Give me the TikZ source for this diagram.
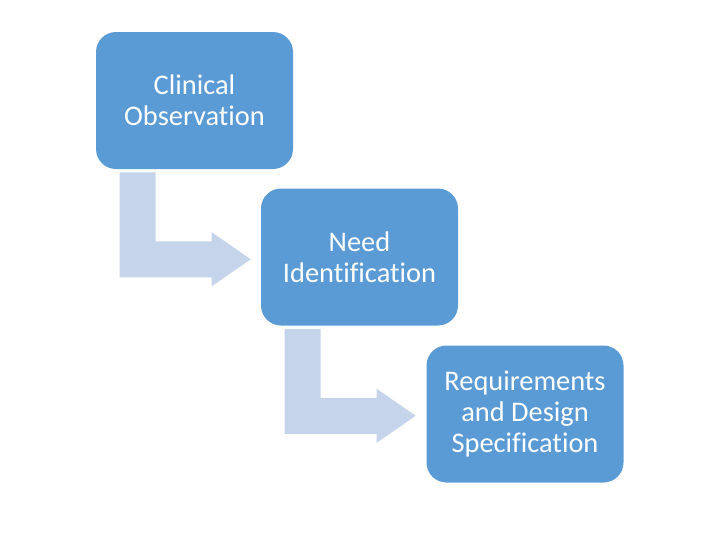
\documentclass[tikz,border=0pt]{standalone}
\usepackage{fontspec}
\setmainfont{Carlito}[Ligatures=NoCommon]
\usepackage{tikz}
\definecolor{boxblue}{RGB}{91,155,213}
\definecolor{arrowblue}{RGB}{197,212,234}

\tikzset{
stagebox/.style={fill=boxblue, draw=none, rounded corners=15pt, text=white, align=center,
  minimum width=147.75pt, minimum height=102.75pt, inner sep=0pt,
  font=\fontsize{21.3pt}{23.25pt}\selectfont},
bentarrow/.pic={
  \fill[arrowblue] (24,3) -- (60,3) -- (60,72) -- (116,72) -- (116,63) -- (155,90)
    -- (116,117) -- (116,108) -- (24,108) -- cycle;
}
}

\begin{document}
\begin{tikzpicture}[x=0.75pt, y=-0.75pt]
\useasboundingbox (0,0) rectangle (720,540);

\node[stagebox] (observation) at (194.5,100.5) {Clinical\\Observation};
\node[stagebox] (need) at (359.5,257) {Need\\Identification};
\node[stagebox] (spec) at (525,414) {Requirements\\and Design\\Specification};

\pic at (observation.south west) {bentarrow};
\pic at (need.south west) {bentarrow};

\end{tikzpicture}
\end{document}
